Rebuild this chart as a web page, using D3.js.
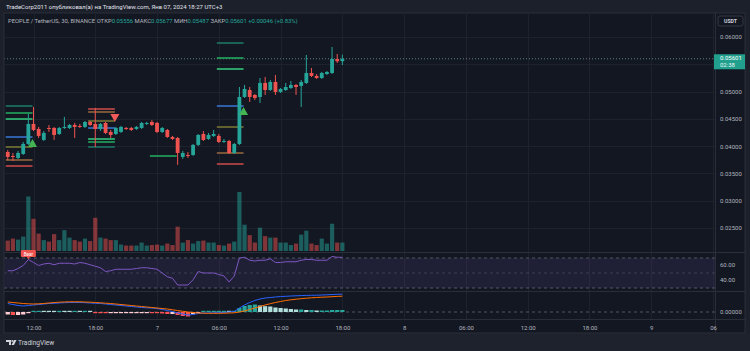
<!DOCTYPE html>
<html>
<head>
<meta charset="utf-8">
<script src="https://cdn.jsdelivr.net/npm/d3@7"></script>
<style>
  body { margin: 0; background: #1c202b; overflow: hidden; }
  svg { display: block; font-family: Roboto, "Liberation Sans", sans-serif; }
</style>
</head>
<body>
<div id="chart"></div>
<script>
// PEOPLE / USDT, 30 min candles, 6 Jan 09:30 -> 7 Jan 18:00
const openP = [.03893,.03820,.03784,.03857,.04040,.04407,.04315,.04114,.04333,.04333,
  .04223,.04333,.04333,.04388,.04370,.04352,.04443,.04407,.04315,.04425,
  .04260,.04223,.04260,.04333,.04333,.04315,.04333,.04407,.04443,.04425,
  .04260,.04297,.04168,.04150,.03802,.03839,.03839,.04022,.04223,.04132,
  .04187,.04187,.04077,.04095,.03875,.04040,.04901,.05029,.04938,.04901,
  .05158,.05029,.05176,.04993,.05029,.05066,.05121,.05103,.05158,.05341,
  .05286,.05249,.05322,.05341,.05597,.05556];
const highP = [.03930,.03875,.03912,.04077,.04590,.04718,.04352,.04278,.04388,.04352,
  .04352,.04535,.04407,.04425,.04407,.04462,.04462,.04700,.04425,.04443,
  .04297,.04352,.04370,.04352,.04352,.04370,.04443,.04443,.04480,.04443,
  .04352,.04315,.04187,.04168,.03912,.03893,.04040,.04223,.04278,.04242,
  .04297,.04223,.04132,.04114,.04059,.05084,.05121,.05084,.04956,.05249,
  .05267,.05212,.05304,.05066,.05158,.05194,.05139,.05212,.05670,.05432,
  .05322,.05359,.05377,.05817,.05689,.05677];
const lowP = [.03747,.03729,.03765,.03839,.04022,.04278,.04150,.04095,.04260,.04114,
  .04205,.04315,.04315,.04150,.04333,.04333,.04370,.03985,.04278,.04223,
  .04150,.04205,.04242,.04297,.04278,.04297,.04315,.04388,.04370,.04242,
  .04242,.04150,.04114,.03656,.03765,.03784,.03820,.04004,.04095,.04114,
  .04168,.04059,.04059,.03857,.03857,.04022,.04883,.04810,.04846,.04791,
  .04938,.05011,.04938,.04974,.05011,.05048,.04938,.04718,.05139,.05267,
  .05231,.05231,.05304,.05322,.05524,.05487];
const closeP = [.03802,.03802,.03875,.04040,.04407,.04297,.04187,.04242,.04315,.04205,
  .04333,.04352,.04388,.04352,.04352,.04443,.04388,.04315,.04407,.04242,
  .04205,.04333,.04352,.04315,.04297,.04352,.04425,.04425,.04388,.04260,
  .04333,.04168,.04132,.03875,.03875,.03820,.04022,.04205,.04114,.04205,
  .04223,.04077,.04095,.03875,.04040,.04901,.05048,.04901,.04883,.05158,
  .05029,.05176,.04993,.05048,.05084,.05121,.05084,.05176,.05341,.05286,
  .05249,.05341,.05359,.05597,.05555,.05601];
// volume, millions
const volume = [21,25,23,29,110,65,35,22,19,34,
  22,42,27,22,19,25,20,67,27,25,
  22,22,13,11,11,11,17,11,12,13,
  11,15,12,49,17,22,15,20,21,17,
  17,12,11,15,19,119,53,32,17,47,
  30,27,27,17,17,12,15,33,41,15,
  12,25,15,55,17,17];
const rsi = [53,53,56,60,68,64,60,62,63,61,
  63,63,63,62,64,63,61,59,57,52,
  53,55,55,55,55,56,57,57,56,55,
  50,45,43,34,34,34,41,52,50,50,
  50,48,46,38,46,70,71,67,66,67,
  67,69,64,64,65,65,65,67,68,68,
  67,67,67,72,71,71];
// MACD values in units of 1e-4
const macdLine = [8.5,7.5,6.5,6,6.5,7,7.5,8,8.5,8.7,
  9,9.3,9.5,9.5,9.5,9.3,9,8.7,8.5,8,
  7.5,7,6.5,6,5.5,5,4.5,4.2,4,3.5,
  2.5,1.5,0.5,-1,-2,-3,-2.5,-1.5,-1,-1,
  -0.8,-0.7,-0.5,0,0.5,4,7,9.5,11.5,13,
  14,14.5,15,15.5,15.7,16,16.2,16.4,16.6,16.7,
  16.8,17,17.2,17.5,17.7,17.8];
const signalLine = [10,9.5,9,8.5,8.2,8,8.2,8.5,9,9.5,
  9.8,10,10.2,10.2,10.2,10,9.8,9.5,9.2,8.8,
  8.5,8,7.5,7,6.5,6,5.5,5,4.5,4,
  3.5,3,2.2,1.5,0.7,0,-0.5,-1,-1.2,-1.3,
  -1.3,-1.3,-1.2,-1,-0.8,0,1,2.5,4,5.5,
  7,8.3,9.5,10.5,11.5,12.2,12.8,13.3,13.8,14.2,
  14.5,14.8,15,15.3,15.6,15.8];
const macdHist = [-2.5,-3,-3,-2.5,-1,1,1.2,1,0.8,0.5,
  0.6,0.5,0.4,0.4,0.3,0.3,0.2,-0.8,-1,-1.2,
  -1,-1,-0.8,-0.6,-0.5,-0.5,-0.4,-0.4,-0.5,-1.2,
  -1.5,-2,-2,-3,-4,-4.5,-2,-0.8,0.3,0.3,
  0.4,0.4,0.5,0.3,1,4,6,7,7.5,6.5,
  5.8,5.5,4.5,4,3.5,3,2.5,2.5,2,2,
  1.5,1.5,1.5,2,2,2];

// signal indicator levels: candle span and prices
const levelStart = [0, 16, 28, 41];
const levelEnd = [5, 21, 33, 46];
const levelPrices = [
  [.04736, .04608, .04498, .04168, .03985, .03747, .03637],
  [.04681, .04626, .04462, .04333, .04132, .04077, .03985],
  [.03820],
  [.05890, .05615, .05414, .04736, .04352, .03875, .03674]
];
const levelKinds = [
  ["tp3", "tp2", "tp1", "entry", "mid", "sl2", "sl"],
  ["sl", "sl2", "mid", "entry", "tp1", "tp2", "tp3"],
  ["tp2"],
  ["tp3", "tp2", "tp1", "entry", "mid", "sl2", "sl"]
];
const arrowIdx = [5, 21, 46];
const arrowDir = ["up", "down", "up"];
const arrowPrice = [.04150, .04462, .04736];

const priceTicks = [0.025, 0.030, 0.035, 0.040, 0.045, 0.050, 0.055, 0.060];
const timeTicks = [new Date(2024,0,6,12), new Date(2024,0,6,18), new Date(2024,0,7,0),
  new Date(2024,0,7,6), new Date(2024,0,7,12), new Date(2024,0,7,18), new Date(2024,0,8,0),
  new Date(2024,0,8,6), new Date(2024,0,8,12), new Date(2024,0,8,18), new Date(2024,0,9,0),
  new Date(2024,0,9,6)];
const timeLabels = ["12:00","18:00","7","06:00","12:00","18:00","8","06:00","12:00","18:00","9","06"];

const firstCandle = new Date(2024, 0, 6, 9, 30);
const dates = openP.map((d, i) => d3.timeMinute.offset(firstCandle, 30 * i));
const last = openP.length - 1;

const width = 750, height = 351;
const frame = { left: 4, right: 745, top: 13, bottom: 333 };
const plotRight = 715;
const pane = { mainTop: 13, mainBottom: 252, rsiBottom: 291, macdBottom: 319 };

const up = "#26a69a", down = "#ef5350";
const levelColor = { tp3: "#1c7d66", tp2: "#23b061", tp1: "#35d07f", entry: "#3b78d8",
  mid: "#7c7a34", sl2: "#9a6a3c", sl: "#cf4b4b" };

const svg = d3.select("#chart").append("svg")
  .attr("width", width).attr("height", height);

svg.append("rect").attr("width", width).attr("height", height).attr("fill", "#1c202b");
svg.append("rect")
  .attr("x", frame.left).attr("y", frame.top)
  .attr("width", frame.right - frame.left).attr("height", frame.bottom - frame.top)
  .attr("fill", "#131722").attr("stroke", "#2a2e39");

// scales
let x = d3.scaleTime()
  .domain([new Date(2024,0,6,12), new Date(2024,0,9,6)])
  .range([33.5, 713]);
let y = d3.scaleLinear().domain([0.025, 0.06]).range([228, 37]);
let yVol = d3.scaleLinear().domain([0, d3.max(volume)]).range([251, 192]);
let yRsi = d3.scaleLinear().domain([30, 70]).range([288, 258]);
let yMacd = d3.scaleLinear().domain([0, 18]).range([312, 294]);

svg.append("clipPath").attr("id", "plot")
  .append("rect").attr("x", frame.left + 0.5).attr("y", frame.top)
  .attr("width", plotRight - frame.left - 0.5).attr("height", pane.macdBottom - frame.top);

const plot = svg.append("g").attr("clip-path", "url(#plot)");

// grid
plot.append("g").selectAll("line").data(priceTicks).join("line")
  .attr("x1", frame.left).attr("x2", plotRight)
  .attr("y1", d => Math.round(y(d)) + 0.5).attr("y2", d => Math.round(y(d)) + 0.5)
  .attr("stroke", "#1e222d");
plot.append("g").selectAll("line").data(timeTicks).join("line")
  .attr("x1", d => Math.round(x(d)) + 0.5).attr("x2", d => Math.round(x(d)) + 0.5)
  .attr("y1", pane.mainTop).attr("y2", pane.macdBottom)
  .attr("stroke", "#1e222d");

// pane separators
[pane.mainBottom, pane.rsiBottom, pane.macdBottom].forEach(v => {
  svg.append("line").attr("x1", frame.left).attr("x2", frame.right)
    .attr("y1", v + 0.5).attr("y2", v + 0.5).attr("stroke", "#2a2e39");
});
svg.append("line").attr("x1", plotRight + 0.5).attr("x2", plotRight + 0.5)
  .attr("y1", frame.top).attr("y2", frame.bottom).attr("stroke", "#2a2e39");

// volume
plot.append("g").selectAll("rect").data(volume).join("rect")
  .attr("x", (d, i) => x(dates[i]) - 2.1)
  .attr("width", 4.2)
  .attr("y", d => yVol(d))
  .attr("height", d => yVol(0) - yVol(d))
  .attr("fill", (d, i) => closeP[i] >= openP[i] ? up : down)
  .attr("opacity", 0.5);

// current price dotted line
plot.append("line")
  .attr("x1", frame.left).attr("x2", plotRight)
  .attr("y1", y(closeP[last])).attr("y2", y(closeP[last]))
  .attr("stroke", "#5d7f7c").attr("stroke-dasharray", "1,2");

// indicator levels
levelPrices.forEach((grp, g) => {
  plot.append("g").selectAll("line").data(grp).join("line")
    .attr("x1", x(dates[levelStart[g]]) - 2)
    .attr("x2", x(dates[levelEnd[g]]) - 1)
    .attr("y1", d => y(d)).attr("y2", d => y(d))
    .attr("stroke", (d, k) => levelColor[levelKinds[g][k]])
    .attr("stroke-width", 1.4);
});

// candles
const candles = plot.append("g").selectAll("g").data(openP).join("g");
candles.append("line")
  .attr("x1", (d, i) => x(dates[i])).attr("x2", (d, i) => x(dates[i]))
  .attr("y1", (d, i) => y(highP[i])).attr("y2", (d, i) => y(lowP[i]))
  .attr("stroke", (d, i) => closeP[i] >= openP[i] ? up : down);
candles.append("rect")
  .attr("x", (d, i) => x(dates[i]) - 1.9).attr("width", 3.8)
  .attr("y", (d, i) => y(Math.max(openP[i], closeP[i])))
  .attr("height", (d, i) => Math.max(1, Math.abs(y(openP[i]) - y(closeP[i]))))
  .attr("fill", (d, i) => closeP[i] >= openP[i] ? up : down);

// signal arrows
plot.append("g").selectAll("path").data(arrowIdx).join("path")
  .attr("d", (d, k) => {
    const cx = x(dates[d]) - 1, py = y(arrowPrice[k]);
    return arrowDir[k] === "up"
      ? `M${cx},${py + 1}L${cx + 4.5},${py + 9}L${cx - 4.5},${py + 9}Z`
      : `M${cx - 4.5},${py - 7}L${cx + 4.5},${py - 7}L${cx},${py + 1}Z`;
  })
  .attr("fill", (d, k) => arrowDir[k] === "up" ? "#43b653" : "#f05a5a");

// RSI pane
plot.append("rect").attr("x", frame.left).attr("width", plotRight - frame.left)
  .attr("y", yRsi(70)).attr("height", yRsi(30) - yRsi(70))
  .attr("fill", "rgba(126,87,194,0.12)");
plot.append("g").selectAll("line").data([70, 50, 30]).join("line")
  .attr("x1", frame.left).attr("x2", plotRight)
  .attr("y1", d => yRsi(d)).attr("y2", d => yRsi(d))
  .attr("stroke", "#787b86").attr("stroke-opacity", d => d === 50 ? 0.35 : 0.6)
  .attr("stroke-dasharray", "3,3");
plot.append("path").datum(rsi)
  .attr("fill", "none").attr("stroke", "#7e57c2").attr("stroke-width", 1)
  .attr("d", d3.line().x((d, i) => x(dates[i])).y(d => yRsi(d)));

// Bear label on the RSI peak
const bearX = x(dates[4]);
svg.append("rect").attr("x", bearX - 7.5).attr("y", 250).attr("width", 15).attr("height", 7)
  .attr("rx", 1).attr("fill", "#ef5350");
svg.append("path").attr("d", `M${bearX - 1.5},257L${bearX + 1.5},257L${bearX},${yRsi(rsi[4])}Z`)
  .attr("fill", "#ef5350");
svg.append("text").attr("x", bearX).attr("y", 255.6).attr("text-anchor", "middle")
  .attr("font-size", 4.6).attr("fill", "#fff").text("Bear");

// MACD pane
plot.append("line").attr("x1", frame.left).attr("x2", plotRight)
  .attr("y1", yMacd(0)).attr("y2", yMacd(0))
  .attr("stroke", "#787b86").attr("stroke-opacity", 0.6).attr("stroke-dasharray", "3,3");
plot.append("g").selectAll("rect").data(macdHist).join("rect")
  .attr("x", (d, i) => x(dates[i]) - 2.1).attr("width", 4.2)
  .attr("y", d => d >= 0 ? Math.min(yMacd(d), yMacd(0) - 1.2) : yMacd(0))
  .attr("height", d => Math.max(1.2, Math.abs(yMacd(d) - yMacd(0))))
  .attr("fill", (d, i) => {
    const prev = i > 0 ? macdHist[i - 1] : d;
    if (d >= 0) return d >= prev ? "#26a69a" : "#b2dfdb";
    return d >= prev ? "#ffcdd2" : "#ff5252";
  });
plot.append("path").datum(macdLine)
  .attr("fill", "none").attr("stroke", "#2962ff").attr("stroke-width", 1)
  .attr("d", d3.line().x((d, i) => x(dates[i])).y(d => yMacd(d)));
plot.append("path").datum(signalLine)
  .attr("fill", "none").attr("stroke", "#ff6d00").attr("stroke-width", 1)
  .attr("d", d3.line().x((d, i) => x(dates[i])).y(d => yMacd(d)));

// time axis
const tAxis = svg.append("g")
  .attr("transform", `translate(0,${pane.macdBottom + 4})`)
  .call(d3.axisBottom(x).tickValues(timeTicks).tickFormat((d, i) => timeLabels[i]).tickSize(0));
tAxis.select(".domain").remove();
tAxis.selectAll("text").attr("fill", "#b2b5be").attr("font-size", 6).attr("font-family", "Roboto");

// price axis (the label under the last-price box is hidden, as on the chart)
const lastY = y(closeP[last]);
const pAxis = svg.append("g")
  .attr("transform", `translate(${plotRight + 2},0)`)
  .call(d3.axisRight(y)
    .tickValues(priceTicks.filter(d => Math.abs(y(d) - lastY - 3) > 10))
    .tickFormat(d3.format(".5f")).tickSize(0));
pAxis.select(".domain").remove();
pAxis.selectAll("text").attr("fill", "#b2b5be").attr("font-size", 6).attr("font-family", "Roboto");

// RSI and MACD axis labels
svg.append("g").selectAll("text").data([60, 40]).join("text")
  .attr("x", plotRight + 5).attr("y", d => yRsi(d)).attr("dy", "0.32em")
  .attr("fill", "#b2b5be").attr("font-size", 6).text(d => d3.format(".2f")(d));
svg.append("text").attr("x", plotRight + 5).attr("y", yMacd(0)).attr("dy", "0.32em")
  .attr("fill", "#b2b5be").attr("font-size", 6).text("0.00000");

// current price label
svg.append("rect").attr("x", plotRight - 1).attr("y", lastY - 4.5)
  .attr("width", frame.right - plotRight + 1).attr("height", 15).attr("fill", "#22a08e");
svg.append("text").attr("x", plotRight + 5).attr("y", lastY + 1.5)
  .attr("fill", "#fff").attr("font-size", 6).text(d3.format(".5f")(closeP[last]));
svg.append("text").attr("x", plotRight + 5).attr("y", lastY + 8.5)
  .attr("fill", "#e8f5f3").attr("font-size", 6).text("02:38");

// currency box
svg.append("rect").attr("x", 718).attr("y", 16).attr("width", 25).attr("height", 10)
  .attr("rx", 2).attr("fill", "#131722").attr("stroke", "#434651").attr("stroke-width", 0.7);
svg.append("text").attr("x", 730.5).attr("y", 23).attr("text-anchor", "middle")
  .attr("fill", "#d1d4dc").attr("font-size", 5.2).attr("font-weight", "bold").text("USDT");

// header
svg.append("text").attr("x", 6).attr("y", 9)
  .attr("fill", "#e0e3eb").attr("font-size", 6)
  .text("TradeCorp2011 опубликовал(а) на TradingView.com, Янв 07, 2024 18:27 UTC+3");

const f5 = d3.format(".5f");
const chg = closeP[last] - closeP[last - 1];
const hdr = svg.append("text").attr("x", 8).attr("y", 22.5).attr("font-size", 5.9).attr("fill", "#b2b5be");
hdr.append("tspan").text("PEOPLE / TetherUS, 30, BINANCE  ");
[["ОТКР", openP[last]], ["МАКС", highP[last]], ["МИН", lowP[last]], ["ЗАКР", closeP[last]]].forEach(([k, v]) => {
  hdr.append("tspan").text(k);
  hdr.append("tspan").attr("fill", up).text(f5(v) + "  ");
});
hdr.append("tspan").attr("fill", up)
  .text(`+${f5(chg)} (+${d3.format(".2f")(chg / closeP[last - 1] * 100)}%)`);

// footer
svg.append("rect").attr("x", 0).attr("y", frame.bottom + 1).attr("width", width)
  .attr("height", height - frame.bottom - 1).attr("fill", "#1e222d");
const logo = svg.append("g").attr("transform", "translate(6,340)").attr("fill", "#d1d4dc");
logo.append("path").attr("d", "M0,0H5V5H3V2H0Z");
logo.append("circle").attr("cx", 6.3).attr("cy", 1).attr("r", 1);
logo.append("path").attr("d", "M8,0H10.5L8,5H5.5Z");
svg.append("text").attr("x", 18).attr("y", 345.2)
  .attr("fill", "#d1d4dc").attr("font-size", 6.6).text("TradingView");
</script>
</body>
</html>
